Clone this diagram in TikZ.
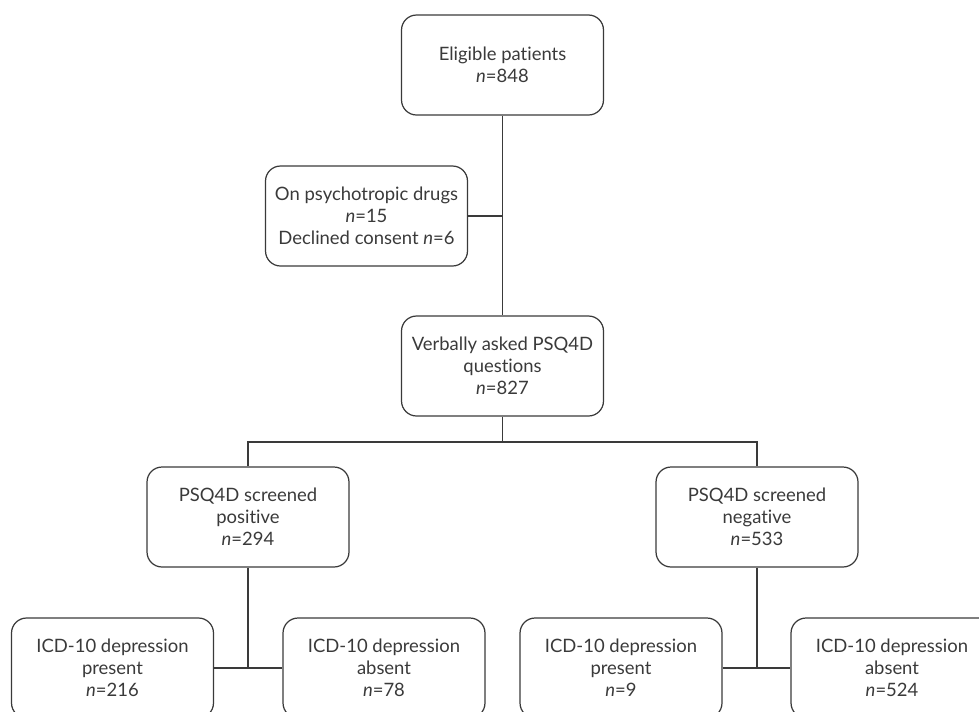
\documentclass[tikz,border=0pt]{standalone}
\usepackage{fontspec}
\setmainfont{Lato}[Ligatures=NoCommon]
\usetikzlibrary{positioning}
\definecolor{inkgrey}{HTML}{3A3A3A}
\tikzset{
  stage/.style={rectangle,rounded corners=0.3cm,draw=inkgrey,line width=0.7pt,
    minimum width=4.04cm,minimum height=2cm,align=center,
    font=\fontsize{10.5}{12.6}\selectfont,text=inkgrey},
  link/.style={draw=inkgrey,line width=0.7pt}
}
\begin{document}
\begin{tikzpicture}[x=0.02cm,y=-0.02cm]
\useasboundingbox (0,0) rectangle (979,711);
\clip (0,0) rectangle (979,711);

% top of the chart
\node[stage] (elig) at (502.5,65) {Eligible patients\\\textit{n}=848};
\node[stage] (excl) at (366.5,216) {On psychotropic drugs\\\textit{n}=15\\Declined consent \textit{n}=6};
\node[stage] (verb) at (502.5,366) {Verbally asked PSQ4D\\questions\\\textit{n}=827};

% screening result
\node[stage] (pos) at (248,517) {PSQ4D screened\\positive\\\textit{n}=294};
\node[stage] (neg) at (757,517) {PSQ4D screened\\negative\\\textit{n}=533};

% ICD-10 outcome
\node[stage] (pospres) at (112.5,668) {ICD-10 depression\\present\\\textit{n}=216};
\node[stage] (posabs) at (384,668) {ICD-10 depression\\absent\\\textit{n}=78};
\node[stage] (negpres) at (621,668) {ICD-10 depression\\present\\\textit{n}=9};
\node[stage] (negabs) at (892,668) {ICD-10 depression\\absent\\\textit{n}=524};

\coordinate (split) at (502.5,442);

\draw[link] (elig.south) -- (verb.north);
\draw[link] (excl.east) -- (elig.south |- excl.east);
\draw[link] (verb.south) -- (split);
\draw[link] (pos.north) |- (split) -| (neg.north);
\draw[link] (pos.south) -- (pos.south |- pospres.east);
\draw[link] (pospres.east) -- (posabs.west);
\draw[link] (neg.south) -- (neg.south |- negpres.east);
\draw[link] (negpres.east) -- (negabs.west);

\end{tikzpicture}
\end{document}
